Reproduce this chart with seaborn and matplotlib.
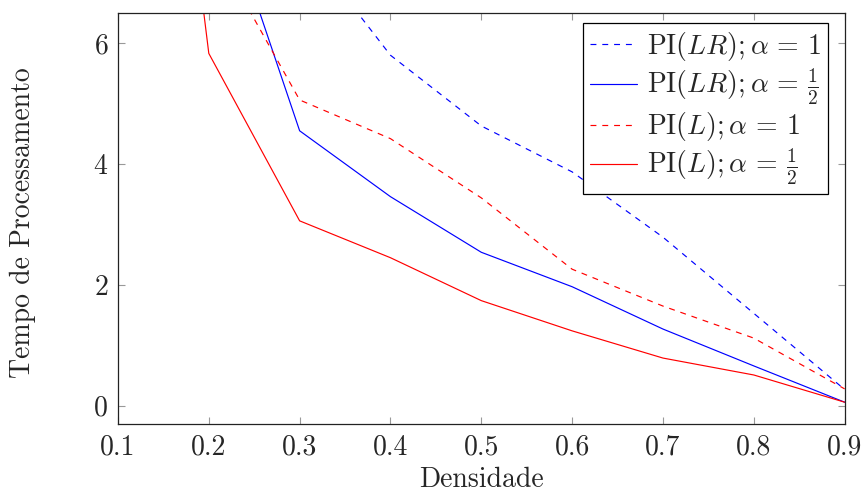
import numpy as np
import pandas as pd
import matplotlib
matplotlib.use('Agg')
import matplotlib.pyplot as plt
import seaborn as sns

densidade = [0.1, 0.2, 0.3, 0.4, 0.5, 0.6, 0.7, 0.8, 0.9]
# valores acima de 6.5 ficam fora da janela (estimados pela inclinacao)
pi_lr_a1 = [30.0, 12.0, 7.74, 5.80, 4.63, 3.87, 2.79, 1.53, 0.27]
pi_lr_a12 = [20.0, 9.0, 4.55, 3.46, 2.54, 1.97, 1.27, 0.66, 0.06]
pi_l_a1 = [25.0, 7.74, 5.06, 4.42, 3.44, 2.26, 1.65, 1.12, 0.28]
pi_l_a12 = [18.0, 5.83, 3.06, 2.45, 1.74, 1.24, 0.79, 0.51, 0.06]

labels = [r'$\mathrm{PI}(LR);\alpha \,=\, 1$',
          r'$\mathrm{PI}(LR);\alpha \,=\, \frac{1}{2}$',
          r'$\mathrm{PI}(L);\alpha \,=\, 1$',
          r'$\mathrm{PI}(L);\alpha \,=\, \frac{1}{2}$']
series = [pi_lr_a1, pi_lr_a12, pi_l_a1, pi_l_a12]
colors = ['blue', 'blue', 'red', 'red']
styles = [(0, (5, 5)), '-', (0, (5, 5)), '-']

sns.set_style('ticks')
plt.rcParams['font.family'] = 'serif'
plt.rcParams['font.serif'] = ['cmr10', 'DejaVu Serif']
plt.rcParams['mathtext.fontset'] = 'cm'
plt.rcParams['axes.formatter.use_mathtext'] = True

fig = plt.figure(figsize=(8.63, 4.97), dpi=100)
ax = fig.add_axes([0.1367, 0.147, 0.842, 0.827])

for vals, lab, c, ls in zip(series, labels, colors, styles):
    df = pd.DataFrame({'x': densidade, 'y': vals})
    sns.lineplot(data=df, x='x', y='y', ax=ax, color=c, linestyle=ls,
                 linewidth=0.85, label=lab)

ax.set_xlim(0.1, 0.9)
ax.set_ylim(-0.3, 6.5)
ax.set_xticks([0.1, 0.2, 0.3, 0.4, 0.5, 0.6, 0.7, 0.8, 0.9])
ax.set_yticks([0, 2, 4, 6])
ax.set_xticklabels(['0.1', '0.2', '0.3', '0.4', '0.5', '0.6', '0.7', '0.8', '0.9'])
ax.tick_params(direction='in', length=5, width=0.8, color='#999999',
               top=True, right=True, labelsize=20)
ax.tick_params(axis='y', pad=7)
ax.tick_params(axis='x', pad=7.5)
for s in ax.spines.values():
    s.set_visible(True)
    s.set_color('#222222')
    s.set_linewidth(0.9)

ax.set_xlabel('Densidade', fontsize=20)
ax.set_ylabel('Tempo de Processamento', fontsize=20)
ax.xaxis.set_label_coords(0.5, -0.105)
ax.yaxis.set_label_coords(-0.113, 0.49)

leg = ax.legend(loc='upper right', fontsize=20, frameon=True, fancybox=False,
                edgecolor='black', framealpha=1, borderaxespad=0,
                bbox_to_anchor=(828 / 863, 1 - 23 / 497),
                bbox_transform=fig.transFigure,
                handlelength=1.7, labelspacing=0.12, borderpad=0.25,
                handletextpad=0.35)
leg.get_frame().set_linewidth(0.9)

fig.savefig('out.png', dpi=100)
